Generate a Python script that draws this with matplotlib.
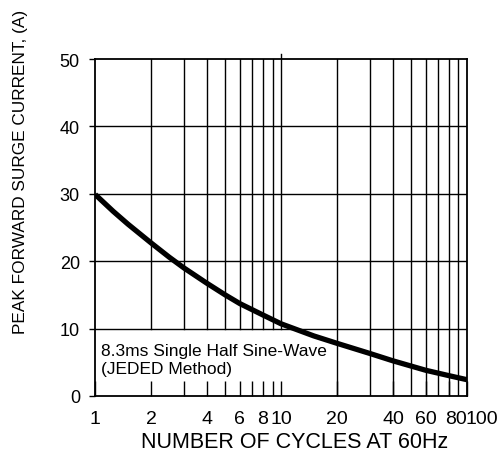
import matplotlib.pyplot as plt
from matplotlib.transforms import ScaledTranslation

plt.rcParams['font.family'] = ['Liberation Sans', 'DejaVu Sans']

# curve
cycles = [1, 1.25, 1.5, 2, 2.5, 3, 4, 5, 6, 8, 10, 15, 20, 30, 40, 60, 80, 100]
current = [29.9, 27.4, 25.5, 22.7, 20.6, 19.0, 16.7, 15.0, 13.7, 12.0, 10.7,
           8.9, 7.8, 6.3, 5.2, 3.8, 3.0, 2.4]

xticks = [1, 2, 4, 6, 8, 10, 20, 40, 60, 80, 100]
xlabels = ['1', '2', '4', '6', '8', '10', '20', '40', '60', '80', '100']
yticks = [0, 10, 20, 30, 40, 50]

fig = plt.figure(figsize=(5.01, 4.52), dpi=100)
ax = fig.add_axes([0.19, 0.122, 0.742, 0.745])
ax.set_xscale('log')
ax.set_xlim(1, 100)
ax.set_ylim(0, 50)

# grid, left part under the note box stops at 10 A
for x in range(2, 10):
    ax.axvline(x, ymin=0.2, ymax=1, color='black', lw=1.0, zorder=1)
ax.axvline(10, ymin=0.2, ymax=1.015, color='black', lw=1.0, zorder=1, clip_on=False)
for x in range(20, 100, 10):
    ax.axvline(x, color='black', lw=1.0, zorder=1)
for y in [10, 20, 30, 40]:
    ax.axhline(y, color='black', lw=1.0, zorder=1)

ax.plot(cycles, current, color='black', lw=3.8, solid_capstyle='butt', zorder=3)

ax.text(1.07, 6.8, '8.3ms Single Half Sine-Wave', fontsize=12.5, va='center', ha='left')
ax.text(1.07, 4.0, '(JEDED Method)', fontsize=12.5, va='center', ha='left')

ax.set_xticks(xticks)
ax.set_xticklabels(xlabels, fontsize=14)
ax.xaxis.set_minor_locator(plt.FixedLocator([3, 5, 7, 9]))
ax.xaxis.set_minor_formatter(plt.NullFormatter())
ax.tick_params(axis='x', which='both', direction='in', length=11, width=1.0, pad=10)
# last two labels sit a bit to the right in the original
shifts = {'80': 0.07, '100': 0.15}
for lbl in ax.get_xticklabels():
    dx = shifts.get(lbl.get_text(), 0)
    if dx:
        lbl.set_transform(lbl.get_transform() + ScaledTranslation(dx, 0, fig.dpi_scale_trans))

ax.set_yticks(yticks)
ax.set_yticklabels([str(v) for v in yticks], fontsize=13)
ax.tick_params(axis='y', direction='out', length=4, width=1.0, pad=7)

for s in ax.spines.values():
    s.set_linewidth(1.3)

ax.set_xlabel('NUMBER OF CYCLES AT 60Hz', fontsize=15.5)
ax.xaxis.set_label_coords(0.536, -0.103)
ax.set_ylabel('PEAK FORWARD SURGE CURRENT, (A)', fontsize=12.4)
ax.yaxis.set_label_coords(-0.18, 0.669)

fig.savefig('out.png', dpi=100)
